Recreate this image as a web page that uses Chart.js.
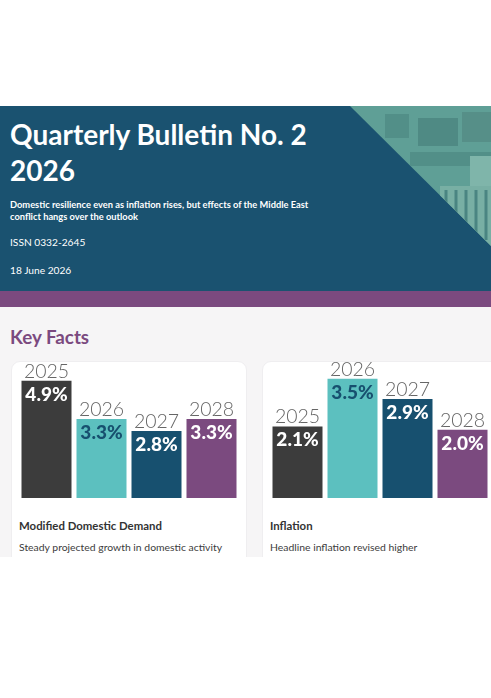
<!DOCTYPE html>
<html>
<head>
<meta charset="utf-8">
<script src="https://cdn.jsdelivr.net/npm/chart.js@4"></script>
<style>
    html, body { margin: 0; padding: 0; background: #fff; }
    body { width: 491px; height: 698px; position: relative; overflow: hidden; font-family: Lato, sans-serif; }
    .header { position: absolute; left: 0; top: 106px; width: 491px; height: 185px; background: #1a5270; color: #fff; overflow: hidden; }
    .header svg { position: absolute; left: 0; top: 0; }
    .header h1 { position: absolute; left: 10px; top: 10px; margin: 0; font-size: 28px; line-height: 36px; font-weight: 700; white-space: nowrap; }
    .header .sub { position: absolute; left: 10px; top: 93px; font-size: 9.3px; line-height: 11.5px; font-weight: 700; white-space: nowrap; }
    .header .issn { position: absolute; left: 10px; top: 130px; font-size: 10.2px; }
    .header .date { position: absolute; left: 10px; top: 158px; font-size: 10.2px; }
    .band { position: absolute; left: 0; top: 291px; width: 491px; height: 16px; background: #7b4a7f; }
    .content { position: absolute; left: 0; top: 307px; width: 491px; height: 250px; background: #f6f5f6; overflow: hidden; }
    .content h2 { position: absolute; left: 10px; top: 17px; margin: 0; font-size: 18.8px; line-height: 26px; font-weight: 700; color: #7b4a7f; }
    .card { position: absolute; top: 54px; height: 220px; background: #fff; border: 1px solid #efeef0; border-radius: 9px; box-sizing: border-box; }
    .card .name { position: absolute; top: 156px; font-size: 11.4px; line-height: 16px; font-weight: 700; color: #333; white-space: nowrap; }
    .card .desc { position: absolute; top: 178px; font-size: 10.4px; line-height: 14px; color: #3c3c3c; white-space: nowrap; }
    canvas { position: absolute; }
</style>
</head>
<body>
<div class="header">
    <svg width="491" height="185">
        <defs><clipPath id="tri"><polygon points="350,0 491,0 491,140"></polygon></clipPath></defs>
        <g clip-path="url(#tri)">
            <rect x="340" y="0" width="151" height="150" fill="#5f9f96"></rect>
            <rect x="385" y="8" width="24" height="24" fill="#528f88"></rect>
            <rect x="418" y="12" width="40" height="28" fill="#4f8a84"></rect>
            <rect x="462" y="6" width="29" height="30" fill="#568f88"></rect>
            <rect x="410" y="46" width="81" height="14" fill="#528f88"></rect>
            <rect x="470" y="50" width="21" height="40" fill="#7fb5aa"></rect>
            <rect x="440" y="80" width="51" height="60" fill="#78afa4"></rect>
            <path d="M446 84V130M456 84V134M466 84V134M476 84V134M486 84V134" stroke="#4a8582" stroke-width="3"></path>
        </g>
    </svg>
    <h1>Quarterly Bulletin No. 2<br>2026</h1>
    <div class="sub">Domestic resilience even as inflation rises, but effects of the Middle East<br>conflict hangs over the outlook</div>
    <div class="issn">ISSN 0332-2645</div>
    <div class="date">18 June 2026</div>
</div>
<div class="band"></div>
<div class="content">
    <h2>Key Facts</h2>
    <div class="card" style="left:11px;width:236px">
        <div class="name" style="left:7px">Modified Domestic Demand</div>
        <div class="desc" style="left:7px">Steady projected growth in domestic activity</div>
    </div>
    <div class="card" style="left:262px;width:260px">
        <div class="name" style="left:7px">Inflation</div>
        <div class="desc" style="left:7px">Headline inflation revised higher</div>
    </div>
</div>
<canvas id="demandChart" width="220" height="148" style="left:19px;top:350px;width:220px;height:148px"></canvas>
<canvas id="inflationChart" width="220" height="148" style="left:269.5px;top:350px;width:220px;height:148px"></canvas>
<script>
const years = ["2025", "2026", "2027", "2028"];
const demandValues = [4.9, 3.3, 2.8, 3.3];
const inflationValues = [2.1, 3.5, 2.9, 2.0];
const barColors = ["#3c3c3c", "#5cc0bf", "#17506f", "#7b4a7f"];
const valueColors = ["#ffffff", "#17506f", "#ffffff", "#ffffff"];

// year above each bar, value inside the top of the bar
const barLabels = {
    id: "barLabels",
    afterDatasetsDraw(chart) {
        const ctx = chart.ctx;
        const values = chart.data.datasets[0].data;
        ctx.save();
        ctx.textAlign = "center";
        chart.getDatasetMeta(0).data.forEach(function (bar, i) {
            ctx.textBaseline = "alphabetic";
            ctx.font = "300 19.5px Lato";
            ctx.fillStyle = "#666666";
            ctx.fillText(years[i], bar.x, bar.y - 3);
            ctx.font = "900 19px Lato";
            ctx.fillStyle = valueColors[i];
            ctx.fillText(values[i].toFixed(1) + "%", bar.x, bar.y + 20);
        });
        ctx.restore();
    }
};

function makeChart(id, values, yMax) {
    return new Chart(document.getElementById(id).getContext("2d"), {
        type: "bar",
        data: {
            labels: years,
            datasets: [{
                data: values,
                backgroundColor: barColors,
                borderWidth: 0,
                categoryPercentage: 1,
                barPercentage: 50 / 55
            }]
        },
        options: {
            responsive: false,
            animation: false,
            layout: { padding: 0 },
            plugins: {
                legend: { display: false },
                tooltip: { enabled: false }
            },
            scales: {
                x: { display: false },
                y: { display: false, min: 0, max: yMax }
            }
        },
        plugins: [barLabels]
    });
}

makeChart("demandChart", demandValues, 6.19);
makeChart("inflationChart", inflationValues, 4.34);
</script>
</body>
</html>
